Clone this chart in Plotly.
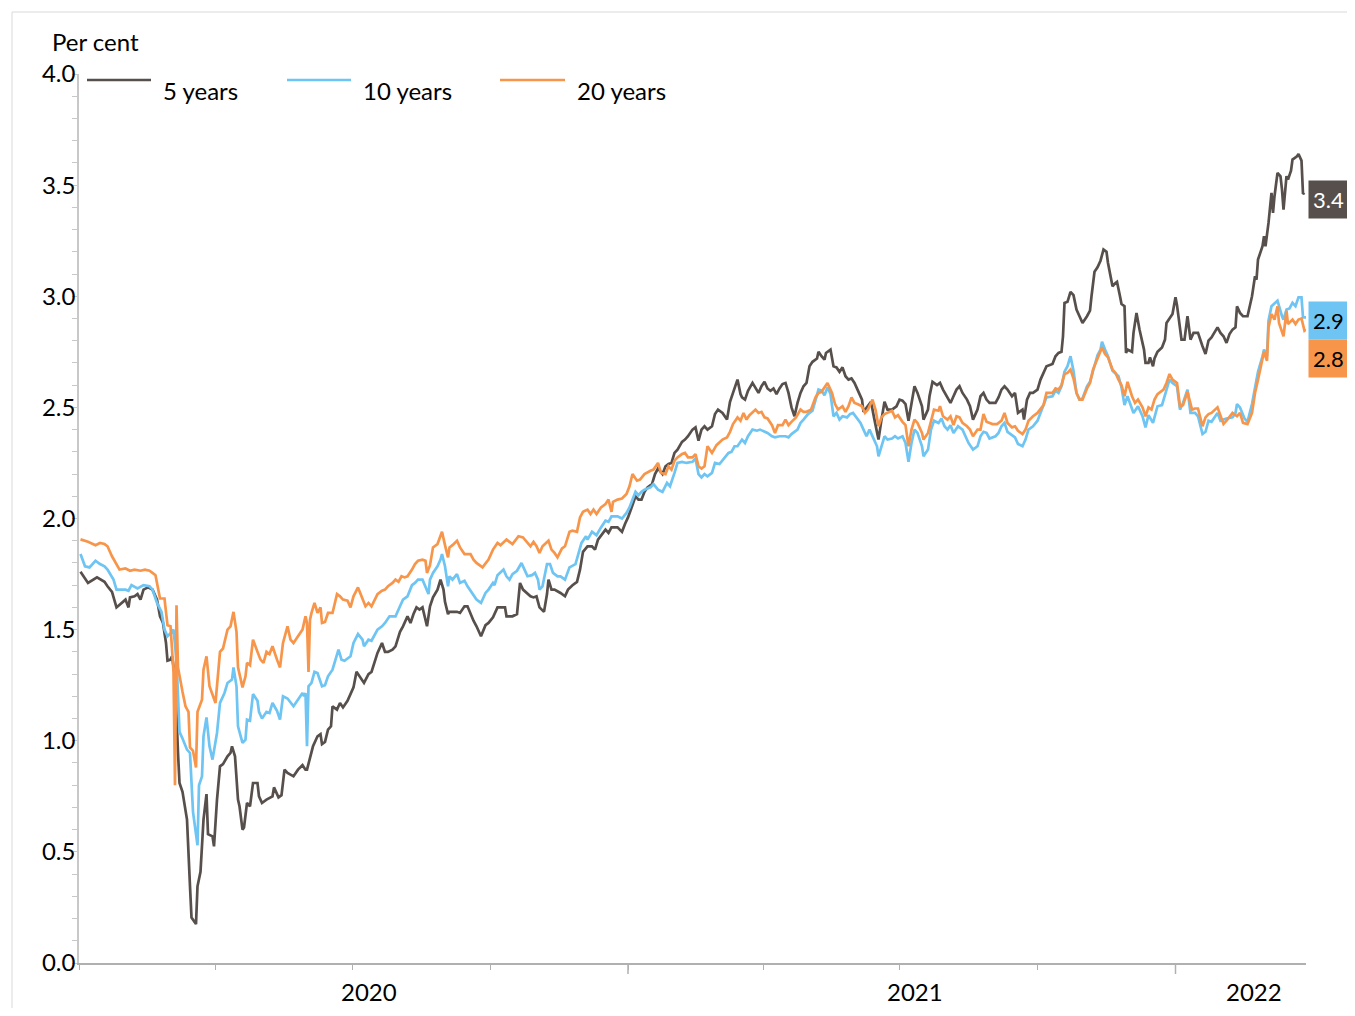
import pandas as pd
import plotly.graph_objects as go

# Government bond yields, per cent. (days since 1 Jan 2020, value)
yld_5y = [
    (1, 1.76), (6, 1.71), (12, 1.735), (17, 1.715), (19, 1.695), (22, 1.67), (25, 1.60), (31, 1.635),
    (33, 1.60), (34, 1.645), (37, 1.65), (39, 1.66), (41, 1.635), (43, 1.68), (46, 1.69), (49, 1.68),
    (52, 1.635), (54, 1.56), (56, 1.53), (58, 1.44), (59, 1.36), (61, 1.365), (62, 1.38), (64, 1.29),
    (66, 0.945), (67, 0.81), (69, 0.77), (72, 0.645), (74, 0.345), (75, 0.205), (78, 0.175), (79, 0.345),
    (81, 0.41), (83, 0.645), (85, 0.76), (86, 0.58), (89, 0.57), (90, 0.525), (92, 0.735), (94, 0.885),
    (96, 0.895), (99, 0.93), (101, 0.945), (102, 0.975), (104, 0.93), (106, 0.735), (107, 0.705), (109, 0.60),
    (110, 0.61), (112, 0.72), (114, 0.705), (116, 0.81), (119, 0.81), (120, 0.75), (122, 0.72), (125, 0.735),
    (129, 0.75), (130, 0.79), (133, 0.745), (135, 0.755), (137, 0.87), (139, 0.855), (143, 0.84), (146, 0.87),
    (149, 0.89), (151, 0.87), (152, 0.87), (154, 0.925), (156, 0.975), (159, 1.02), (161, 1.03), (162, 0.985),
    (164, 0.995), (166, 1.05), (168, 1.065), (169, 1.155), (172, 1.14), (174, 1.17), (176, 1.15), (179, 1.18),
    (181, 1.21), (183, 1.24), (185, 1.31), (187, 1.29), (190, 1.26), (193, 1.30), (195, 1.31), (199, 1.395),
    (202, 1.44), (204, 1.40), (206, 1.40), (209, 1.41), (211, 1.425), (214, 1.49), (216, 1.515), (219, 1.56),
    (221, 1.53), (223, 1.57), (225, 1.60), (227, 1.59), (229, 1.60), (232, 1.515), (234, 1.605), (236, 1.645),
    (239, 1.68), (241, 1.725), (243, 1.68), (244, 1.625), (246, 1.57), (247, 1.58), (249, 1.58), (252, 1.58),
    (254, 1.575), (257, 1.605), (259, 1.605), (261, 1.57), (263, 1.54), (265, 1.515), (268, 1.47), (271, 1.52),
    (273, 1.53), (276, 1.555), (279, 1.60), (282, 1.60), (284, 1.60), (285, 1.56), (289, 1.56), (292, 1.57),
    (294, 1.71), (296, 1.68), (299, 1.66), (301, 1.65), (303, 1.645), (305, 1.65), (307, 1.60), (310, 1.58),
    (312, 1.66), (313, 1.725), (315, 1.68), (317, 1.68), (321, 1.665), (324, 1.65), (326, 1.68), (329, 1.70),
    (332, 1.715), (334, 1.77), (336, 1.85), (339, 1.875), (342, 1.875), (344, 1.86), (346, 1.905), (349, 1.93),
    (351, 1.95), (353, 1.935), (355, 1.96), (359, 1.96), (362, 1.94), (364, 1.975), (366, 2.005), (369, 2.06),
    (371, 2.10), (373, 2.085), (375, 2.085), (377, 2.12), (379, 2.14), (382, 2.155), (384, 2.20), (386, 2.225),
    (389, 2.20), (391, 2.235), (393, 2.245), (395, 2.25), (397, 2.295), (399, 2.31), (402, 2.345), (404, 2.355),
    (406, 2.37), (409, 2.40), (411, 2.41), (413, 2.35), (415, 2.40), (417, 2.415), (419, 2.40), (422, 2.415),
    (424, 2.47), (426, 2.49), (429, 2.475), (432, 2.445), (434, 2.525), (436, 2.565), (439, 2.625), (441, 2.56),
    (442, 2.545), (444, 2.535), (446, 2.575), (449, 2.61), (451, 2.59), (453, 2.565), (455, 2.595), (457, 2.615),
    (459, 2.585), (461, 2.575), (463, 2.585), (465, 2.56), (467, 2.585), (469, 2.605), (471, 2.61), (473, 2.565),
    (475, 2.50), (477, 2.46), (479, 2.52), (481, 2.565), (483, 2.595), (485, 2.61), (487, 2.685), (489, 2.705),
    (492, 2.72), (493, 2.75), (495, 2.73), (497, 2.715), (498, 2.745), (499, 2.75), (501, 2.76), (503, 2.685),
    (505, 2.68), (507, 2.66), (509, 2.68), (511, 2.64), (513, 2.625), (515, 2.63), (517, 2.61), (519, 2.58),
    (522, 2.535), (523, 2.48), (526, 2.505), (528, 2.525), (530, 2.455), (533, 2.355), (535, 2.445), (537, 2.525),
    (539, 2.49), (542, 2.49), (545, 2.505), (547, 2.535), (549, 2.53), (551, 2.515), (553, 2.44), (555, 2.515),
    (557, 2.595), (559, 2.565), (562, 2.505), (563, 2.445), (566, 2.49), (567, 2.55), (569, 2.615), (572, 2.60),
    (574, 2.61), (576, 2.58), (579, 2.545), (581, 2.52), (583, 2.55), (585, 2.58), (587, 2.595), (589, 2.565),
    (592, 2.535), (594, 2.505), (596, 2.445), (599, 2.49), (601, 2.55), (603, 2.565), (605, 2.535), (607, 2.52),
    (611, 2.52), (613, 2.545), (615, 2.58), (617, 2.595), (619, 2.58), (622, 2.55), (624, 2.565), (626, 2.475),
    (629, 2.49), (630, 2.445), (632, 2.535), (634, 2.565), (636, 2.565), (639, 2.58), (641, 2.625), (643, 2.655),
    (645, 2.685), (649, 2.695), (651, 2.73), (653, 2.745), (655, 2.75), (656, 2.82), (657, 2.97), (659, 2.975),
    (661, 3.02), (663, 3.005), (665, 2.94), (667, 2.91), (669, 2.88), (672, 2.91), (674, 2.935), (675, 3.00),
    (677, 3.11), (679, 3.13), (681, 3.16), (683, 3.21), (685, 3.20), (686, 3.15), (689, 3.045), (691, 3.06),
    (692, 3.065), (694, 3.00), (695, 2.965), (697, 2.955), (698, 2.745), (699, 2.76), (702, 2.75), (703, 2.835),
    (705, 2.925), (707, 2.85), (709, 2.79), (710, 2.76), (711, 2.70), (713, 2.70), (714, 2.725), (716, 2.685),
    (717, 2.72), (719, 2.75), (722, 2.77), (724, 2.805), (725, 2.88), (729, 2.92), (731, 2.995), (732, 2.96),
    (735, 2.805), (736, 2.805), (737, 2.805), (739, 2.91), (741, 2.805), (743, 2.835), (746, 2.835), (749, 2.775),
    (751, 2.74), (753, 2.80), (755, 2.815), (759, 2.86), (761, 2.835), (763, 2.82), (765, 2.79), (767, 2.83),
    (769, 2.85), (771, 2.86), (772, 2.955), (774, 2.925), (776, 2.91), (779, 2.91), (782, 3.00), (784, 3.09),
    (785, 3.075), (786, 3.165), (789, 3.225), (790, 3.27), (791, 3.225), (793, 3.33), (795, 3.465), (796, 3.375),
    (797, 3.45), (799, 3.555), (801, 3.54), (802, 3.48), (803, 3.39), (805, 3.54), (806, 3.525), (808, 3.565),
    (809, 3.615), (812, 3.63), (813, 3.64), (815, 3.61), (816, 3.46), (817, 3.465),
]

yld_10y = [
    (1, 1.84), (4, 1.785), (7, 1.78), (11, 1.81), (14, 1.795), (17, 1.785), (19, 1.77), (23, 1.725),
    (25, 1.68), (31, 1.68), (33, 1.675), (35, 1.70), (39, 1.685), (43, 1.70), (47, 1.695), (49, 1.68),
    (52, 1.62), (55, 1.58), (57, 1.50), (59, 1.47), (62, 1.49), (63, 1.50), (65, 1.365), (67, 1.04),
    (69, 1.01), (72, 0.96), (74, 0.945), (76, 0.68), (79, 0.53), (80, 0.80), (82, 0.84), (83, 1.02),
    (85, 1.105), (86, 1.05), (87, 0.975), (89, 0.915), (92, 1.035), (94, 1.17), (97, 1.215), (99, 1.26),
    (102, 1.275), (103, 1.33), (105, 1.245), (106, 1.065), (109, 0.99), (111, 1.005), (112, 1.095), (114, 1.09),
    (116, 1.21), (119, 1.18), (120, 1.13), (122, 1.10), (125, 1.13), (127, 1.125), (129, 1.17), (132, 1.135),
    (134, 1.095), (136, 1.20), (139, 1.19), (143, 1.155), (146, 1.185), (149, 1.215), (150, 1.20), (151, 1.215),
    (152, 0.975), (153, 1.245), (155, 1.26), (157, 1.31), (159, 1.305), (162, 1.245), (164, 1.25), (166, 1.29),
    (169, 1.32), (173, 1.41), (175, 1.365), (177, 1.36), (181, 1.38), (183, 1.44), (186, 1.48), (189, 1.455),
    (190, 1.425), (193, 1.455), (195, 1.45), (199, 1.50), (202, 1.515), (204, 1.53), (207, 1.56), (211, 1.56),
    (214, 1.605), (216, 1.635), (219, 1.65), (222, 1.70), (224, 1.71), (226, 1.725), (229, 1.725), (231, 1.695),
    (233, 1.66), (234, 1.725), (236, 1.755), (239, 1.785), (241, 1.815), (242, 1.84), (244, 1.785), (246, 1.695),
    (247, 1.74), (249, 1.725), (252, 1.75), (254, 1.71), (257, 1.72), (259, 1.695), (262, 1.665), (265, 1.635),
    (268, 1.62), (271, 1.665), (273, 1.68), (276, 1.71), (277, 1.70), (279, 1.745), (283, 1.77), (285, 1.74),
    (287, 1.725), (289, 1.75), (292, 1.765), (295, 1.80), (297, 1.77), (299, 1.74), (302, 1.745), (304, 1.755),
    (306, 1.725), (307, 1.68), (309, 1.695), (312, 1.795), (314, 1.795), (316, 1.755), (319, 1.74), (321, 1.74),
    (324, 1.725), (327, 1.78), (331, 1.795), (333, 1.845), (335, 1.89), (338, 1.92), (339, 1.905), (342, 1.94),
    (345, 1.925), (348, 1.96), (351, 1.99), (353, 1.985), (355, 2.01), (359, 2.01), (362, 2.00), (365, 2.025),
    (367, 2.05), (371, 2.12), (373, 2.105), (375, 2.12), (377, 2.13), (381, 2.14), (383, 2.155), (386, 2.13),
    (389, 2.12), (392, 2.16), (394, 2.145), (397, 2.205), (399, 2.25), (402, 2.255), (405, 2.25), (409, 2.255),
    (411, 2.27), (413, 2.20), (415, 2.185), (417, 2.20), (419, 2.19), (422, 2.205), (424, 2.25), (427, 2.245),
    (429, 2.26), (433, 2.295), (435, 2.30), (437, 2.325), (439, 2.325), (442, 2.355), (444, 2.34), (446, 2.37),
    (449, 2.40), (452, 2.395), (454, 2.40), (456, 2.395), (459, 2.385), (462, 2.37), (464, 2.365), (467, 2.37),
    (471, 2.37), (473, 2.365), (475, 2.38), (479, 2.40), (481, 2.43), (483, 2.445), (486, 2.47), (489, 2.485),
    (491, 2.535), (493, 2.58), (495, 2.575), (497, 2.555), (499, 2.59), (501, 2.56), (503, 2.46), (505, 2.475),
    (507, 2.445), (509, 2.46), (512, 2.455), (514, 2.47), (516, 2.475), (519, 2.445), (521, 2.43), (523, 2.40),
    (525, 2.37), (527, 2.40), (529, 2.37), (532, 2.325), (533, 2.28), (535, 2.33), (537, 2.37), (539, 2.355),
    (542, 2.36), (544, 2.37), (546, 2.36), (549, 2.37), (551, 2.34), (553, 2.255), (555, 2.34), (557, 2.40),
    (559, 2.385), (562, 2.325), (563, 2.28), (566, 2.31), (568, 2.40), (570, 2.44), (573, 2.43), (575, 2.45),
    (577, 2.415), (579, 2.40), (581, 2.42), (583, 2.385), (586, 2.415), (589, 2.40), (591, 2.37), (593, 2.34),
    (596, 2.31), (599, 2.325), (601, 2.37), (603, 2.39), (605, 2.385), (607, 2.36), (611, 2.37), (613, 2.385),
    (615, 2.415), (617, 2.43), (619, 2.39), (622, 2.375), (624, 2.365), (626, 2.335), (629, 2.325), (631, 2.355),
    (633, 2.40), (636, 2.415), (639, 2.44), (641, 2.475), (643, 2.51), (645, 2.545), (649, 2.55), (651, 2.575),
    (653, 2.565), (655, 2.595), (657, 2.66), (659, 2.685), (661, 2.73), (663, 2.665), (665, 2.565), (667, 2.535),
    (669, 2.54), (672, 2.595), (674, 2.615), (676, 2.665), (679, 2.735), (681, 2.76), (682, 2.795), (684, 2.76),
    (686, 2.73), (689, 2.665), (691, 2.65), (693, 2.64), (695, 2.59), (697, 2.51), (699, 2.55), (703, 2.475),
    (706, 2.505), (709, 2.46), (711, 2.41), (713, 2.465), (716, 2.43), (719, 2.505), (722, 2.51), (725, 2.575),
    (727, 2.625), (729, 2.61), (732, 2.595), (734, 2.49), (736, 2.52), (739, 2.58), (741, 2.475), (744, 2.475),
    (746, 2.46), (749, 2.38), (751, 2.39), (753, 2.44), (755, 2.435), (759, 2.475), (761, 2.44), (763, 2.445),
    (765, 2.45), (769, 2.455), (771, 2.475), (772, 2.515), (774, 2.50), (777, 2.45), (779, 2.435), (782, 2.515),
    (784, 2.595), (786, 2.66), (789, 2.73), (790, 2.76), (792, 2.73), (793, 2.89), (795, 2.955), (797, 2.97),
    (799, 2.98), (802, 2.91), (803, 2.895), (805, 2.94), (807, 2.945), (809, 2.97), (811, 2.955), (813, 2.995),
    (815, 2.995), (816, 2.905), (818, 2.905),
]

yld_20y = [
    (1, 1.906), (6, 1.895), (11, 1.88), (14, 1.89), (17, 1.885), (19, 1.875), (22, 1.83), (25, 1.79),
    (27, 1.77), (31, 1.775), (34, 1.765), (37, 1.77), (41, 1.765), (44, 1.77), (47, 1.765), (49, 1.755),
    (51, 1.745), (54, 1.64), (57, 1.64), (59, 1.52), (61, 1.515), (63, 1.31), (64, 0.80), (65, 1.61),
    (66, 1.33), (69, 1.22), (71, 1.155), (73, 1.13), (74, 0.97), (76, 0.955), (78, 0.88), (79, 1.13),
    (82, 1.185), (83, 1.32), (85, 1.38), (87, 1.245), (91, 1.17), (94, 1.40), (96, 1.415), (99, 1.50),
    (101, 1.515), (103, 1.58), (105, 1.49), (106, 1.33), (109, 1.24), (111, 1.29), (112, 1.35), (114, 1.34),
    (116, 1.455), (119, 1.40), (121, 1.365), (123, 1.35), (125, 1.40), (127, 1.39), (129, 1.425), (132, 1.365),
    (134, 1.33), (136, 1.44), (139, 1.515), (141, 1.455), (143, 1.44), (146, 1.47), (149, 1.50), (151, 1.56),
    (152, 1.53), (153, 1.31), (154, 1.545), (155, 1.575), (157, 1.62), (159, 1.575), (161, 1.60), (162, 1.53),
    (164, 1.535), (166, 1.575), (169, 1.575), (172, 1.66), (174, 1.65), (176, 1.635), (179, 1.63), (181, 1.60),
    (183, 1.65), (186, 1.69), (189, 1.635), (191, 1.605), (193, 1.62), (195, 1.605), (199, 1.66), (202, 1.675),
    (204, 1.68), (206, 1.695), (209, 1.71), (211, 1.725), (213, 1.715), (215, 1.74), (217, 1.735), (219, 1.74),
    (222, 1.77), (224, 1.795), (226, 1.81), (229, 1.815), (231, 1.81), (232, 1.755), (234, 1.79), (236, 1.87),
    (239, 1.885), (241, 1.92), (242, 1.94), (244, 1.88), (246, 1.825), (247, 1.87), (249, 1.88), (252, 1.90),
    (254, 1.87), (257, 1.84), (261, 1.84), (263, 1.815), (265, 1.80), (269, 1.78), (271, 1.80), (273, 1.815),
    (276, 1.86), (279, 1.89), (281, 1.88), (285, 1.905), (289, 1.885), (293, 1.92), (296, 1.915), (299, 1.89),
    (301, 1.875), (303, 1.895), (305, 1.875), (307, 1.845), (309, 1.875), (313, 1.90), (315, 1.86), (317, 1.845),
    (319, 1.825), (322, 1.865), (324, 1.875), (327, 1.94), (329, 1.945), (332, 1.94), (334, 2.005), (336, 2.03),
    (339, 2.04), (341, 2.02), (343, 2.04), (345, 2.02), (348, 2.05), (351, 2.065), (353, 2.085), (355, 2.03),
    (356, 2.075), (359, 2.085), (362, 2.09), (365, 2.11), (367, 2.145), (369, 2.20), (372, 2.17), (374, 2.175),
    (377, 2.20), (381, 2.215), (383, 2.22), (386, 2.25), (388, 2.205), (391, 2.20), (393, 2.235), (395, 2.22),
    (397, 2.26), (399, 2.275), (402, 2.29), (404, 2.295), (406, 2.275), (409, 2.275), (411, 2.29), (413, 2.235),
    (415, 2.225), (417, 2.235), (419, 2.325), (422, 2.295), (425, 2.33), (429, 2.355), (432, 2.365), (434, 2.39),
    (436, 2.425), (439, 2.455), (441, 2.44), (443, 2.475), (445, 2.445), (447, 2.465), (451, 2.49), (453, 2.475),
    (455, 2.48), (457, 2.455), (459, 2.45), (462, 2.42), (464, 2.385), (466, 2.42), (469, 2.42), (471, 2.445),
    (473, 2.42), (475, 2.435), (478, 2.455), (481, 2.49), (483, 2.48), (485, 2.48), (488, 2.49), (491, 2.545),
    (493, 2.565), (495, 2.57), (497, 2.59), (499, 2.61), (502, 2.565), (504, 2.515), (506, 2.49), (509, 2.505),
    (511, 2.48), (513, 2.505), (515, 2.545), (517, 2.52), (519, 2.515), (522, 2.505), (524, 2.475), (526, 2.49),
    (529, 2.535), (531, 2.49), (533, 2.415), (535, 2.455), (537, 2.47), (539, 2.475), (542, 2.485), (544, 2.455),
    (546, 2.465), (549, 2.435), (551, 2.42), (553, 2.325), (555, 2.40), (557, 2.445), (559, 2.43), (562, 2.385),
    (563, 2.355), (566, 2.385), (569, 2.46), (570, 2.49), (573, 2.485), (574, 2.505), (576, 2.46), (579, 2.445),
    (581, 2.46), (583, 2.42), (585, 2.46), (587, 2.455), (589, 2.43), (592, 2.415), (594, 2.40), (596, 2.37),
    (599, 2.40), (601, 2.40), (603, 2.47), (605, 2.435), (609, 2.425), (612, 2.425), (615, 2.44), (617, 2.475),
    (619, 2.43), (622, 2.41), (624, 2.415), (626, 2.395), (629, 2.38), (631, 2.40), (633, 2.44), (636, 2.46),
    (639, 2.475), (641, 2.49), (643, 2.51), (645, 2.565), (649, 2.565), (651, 2.585), (653, 2.58), (655, 2.60),
    (657, 2.65), (659, 2.655), (661, 2.67), (663, 2.63), (665, 2.565), (667, 2.535), (669, 2.535), (672, 2.585),
    (674, 2.61), (676, 2.67), (679, 2.72), (681, 2.745), (682, 2.77), (684, 2.74), (686, 2.725), (689, 2.67),
    (691, 2.655), (693, 2.625), (695, 2.60), (697, 2.55), (699, 2.615), (702, 2.55), (704, 2.52), (706, 2.535),
    (709, 2.50), (711, 2.46), (713, 2.50), (715, 2.49), (717, 2.535), (719, 2.56), (723, 2.58), (725, 2.61),
    (727, 2.65), (729, 2.625), (732, 2.61), (734, 2.505), (736, 2.51), (739, 2.57), (742, 2.49), (744, 2.495),
    (746, 2.495), (749, 2.415), (751, 2.455), (753, 2.47), (755, 2.475), (759, 2.50), (761, 2.46), (763, 2.425),
    (765, 2.44), (767, 2.455), (769, 2.475), (772, 2.46), (774, 2.475), (776, 2.43), (779, 2.425), (782, 2.475),
    (784, 2.565), (786, 2.625), (789, 2.71), (790, 2.75), (792, 2.71), (793, 2.86), (795, 2.92), (797, 2.895),
    (799, 2.955), (800, 2.88), (802, 2.84), (803, 2.82), (805, 2.935), (806, 2.875), (809, 2.895), (811, 2.875),
    (813, 2.895), (815, 2.90), (817, 2.845), (818, 2.85),
]

series_names = ["5 years", "10 years", "20 years"]
series_colors = ["#574f4b", "#6ec4f2", "#f7964a"]
end_labels = ["3.4", "2.9", "2.8"]
end_label_font = ["white", "black", "black"]
year_labels = ["2020", "2021", "2022"]

start = pd.Timestamp("2020-01-01")


def to_xy(pts):
    days = [p[0] for p in pts]
    vals = [p[1] for p in pts]
    return start + pd.to_timedelta(days, unit="D"), vals


# figure size and margins; the page puts the div 8px in from the corner
OFF = 8
W, H = 1347, 1000
L, R, T, B = 71, 49, 66, 45


def px(x):
    # page pixel -> paper x
    return (x - OFF - L) / (W - L - R)


def py(y):
    # page pixel -> paper y
    return (OFF + H - B - y) / (H - T - B)


FONT = "Lato"
fig = go.Figure()

for pts, name, col in zip([yld_5y, yld_10y, yld_20y], series_names, series_colors):
    x, y = to_xy(pts)
    fig.add_trace(go.Scatter(x=x, y=y, mode="lines", name=name,
                             line=dict(color=col, width=2.7), showlegend=False))

shapes = []
annotations = []

# legend drawn by hand (long line samples, text sitting a little lower)
leg_line_x = [(87, 151), (287, 351), (500, 565)]
for (x0, x1), name, col in zip(leg_line_x, series_names, series_colors):
    shapes.append(dict(type="line", xref="paper", yref="paper",
                       x0=px(x0), x1=px(x1), y0=py(80), y1=py(80),
                       line=dict(color=col, width=2.7)))
    annotations.append(dict(xref="paper", yref="paper", x=px(x1 + 10), y=py(90),
                            xanchor="left", yanchor="middle", showarrow=False,
                            text=name, font=dict(family=FONT, size=24, color="black")))

# outer frame
shapes.append(dict(type="rect", xref="paper", yref="paper",
                   x0=px(12), x1=px(1400), y0=py(12), y1=py(1060),
                   line=dict(color="#d9d9d9", width=1), layer="below"))

# long ticks at year starts
for d in ["2021-01-01", "2022-01-01"]:
    shapes.append(dict(type="line", xref="x", yref="paper", x0=d, x1=d,
                       y0=0, y1=py(974), line=dict(color="#b0b0b0", width=1.5)))

# year labels
year_pos = ["2020-07-12", "2021-07-11", "2022-02-22"]
for lab, pos in zip(year_labels, year_pos):
    annotations.append(dict(xref="x", yref="paper", x=pos, y=py(992),
                            xanchor="center", yanchor="middle", showarrow=False,
                            text=lab, font=dict(family=FONT, size=24, color="black")))

# value boxes at the right edge
box_y = [200, 320, 358]
for lab, col, fc, yy in zip(end_labels, series_colors, end_label_font, box_y):
    annotations.append(dict(xref="paper", yref="paper", x=px(1308), y=py(yy),
                            xanchor="left", yanchor="middle", showarrow=False,
                            text=lab, align="left", width=80, height=29,
                            borderpad=4, bgcolor=col,
                            font=dict(family=FONT, size=22, color=fc)))

annotations.append(dict(xref="paper", yref="paper", x=px(50), y=py(41),
                        xanchor="left", yanchor="middle", showarrow=False,
                        text="Per cent", font=dict(family=FONT, size=24, color="black")))

fig.update_layout(
    width=W, height=H,
    margin=dict(l=L, r=R, t=T, b=B),
    paper_bgcolor="white", plot_bgcolor="white",
    font=dict(family=FONT, size=24, color="black"),
    shapes=shapes, annotations=annotations,
    xaxis=dict(
        range=["2020-01-01", "2022-03-29"],
        showgrid=False, zeroline=False,
        showline=True, linecolor="#b0b0b0", linewidth=1.5,
        showticklabels=False,
        tickvals=["2020-01-01"], ticks="outside", ticklen=5, tickcolor="#b0b0b0",
        minor=dict(dtick="M3", tick0="2020-01-01", ticks="outside", ticklen=5,
                   tickcolor="#b0b0b0", showgrid=False),
    ),
    yaxis=dict(
        range=[0, 4],
        showgrid=False, zeroline=False,
        showline=True, linecolor="#c8c8c8", linewidth=1.5,
        tickvals=[0, 0.5, 1, 1.5, 2, 2.5, 3, 3.5, 4], tickformat=".1f",
        ticks="", ticklabelstandoff=-3,
        tickfont=dict(family=FONT, size=24, color="black"),
        minor=dict(dtick=0.1, tick0=0, ticks="outside", ticklen=5,
                   tickcolor="#c8c8c8", showgrid=False),
    ),
)

fig.write_html("out.html")
